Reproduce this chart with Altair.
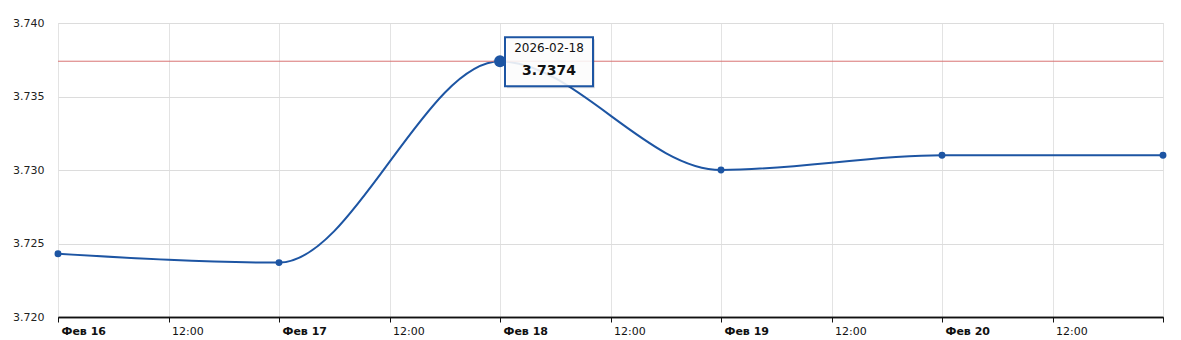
import altair as alt
import pandas as pd

dates = ["2026-02-16", "2026-02-17", "2026-02-18", "2026-02-19", "2026-02-20", "2026-02-21"]
rates = [3.7243, 3.7237, 3.7374, 3.7300, 3.7310, 3.7310]
highlight_date = "2026-02-18"
highlight_value = 3.7374
y_ticks = [3.720, 3.725, 3.730, 3.735, 3.740]
day_numbers = [16, 17, 18, 19, 20, 21]

df = pd.DataFrame({"date": dates, "rate": rates})
hl = pd.DataFrame({"date": [highlight_date], "rate": [highlight_value],
                   "label_date": [highlight_date], "label_value": [f"{highlight_value:.4f}"]})

LINE = "#1d55a3"
FONT = "DejaVu Sans"

day_ticks = [alt.DateTime(year=2026, month=2, date=d, hours=0, utc=True) for d in day_numbers]
noon_ticks = [alt.DateTime(year=2026, month=2, date=d, hours=12, utc=True) for d in day_numbers[:-1]]

x_scale = alt.Scale(type="utc", domain=[day_ticks[0], day_ticks[-1]], nice=False)
y_scale = alt.Scale(domain=[3.720, 3.740], nice=False, zero=False)

common = dict(title=None, orient="bottom", labelAlign="left", labelOffset=3, labelFlush=False, labelPadding=3,
              labelFont=FONT, labelFontSize=11, labelColor="#111",
              domainColor="#111", domainWidth=1.5, tickColor="#111", tickSize=5,
              grid=True, gridColor="#e3e3e3", labelOverlap=False)

x_axis_days = alt.Axis(values=day_ticks, labelFontWeight="bold",
                       labelExpr="utcdate(datum.value) == 21 ? '' : 'Фев ' + utcdate(datum.value)", **common)
x_axis_noon = alt.Axis(values=noon_ticks, labelFontWeight="normal",
                       labelExpr="utcFormat(datum.value, '%H:%M')", **common)

y_axis = alt.Axis(
    title=None, orient="left", values=y_ticks, format=".3f", ticks=False, domain=False,
    labelPadding=14, labelFont=FONT, labelFontSize=11, labelColor="#222",
    grid=True, gridColor="#dcdcdc",
)

yy = alt.Y("rate:Q", scale=y_scale, axis=y_axis)
xn = alt.X("date:T", scale=x_scale, axis=None)

base = alt.Chart(df)

noon_layer = base.mark_line(opacity=0).encode(
    x=alt.X("date:T", scale=x_scale, axis=x_axis_noon), y=yy)
line = base.mark_line(color=LINE, strokeWidth=2, interpolate="monotone").encode(
    x=alt.X("date:T", scale=x_scale, axis=x_axis_days), y=yy)
pts = base.mark_circle(color=LINE, opacity=1, size=48).encode(x=xn, y=yy)

hbase = alt.Chart(hl)
cross = hbase.mark_rule(color="#d87474", strokeWidth=1).encode(
    y=yy, x=alt.value(0), x2=alt.value(1105))
big = hbase.mark_circle(color=LINE, opacity=1, size=140).encode(x=xn, y=yy)
shadow = hbase.mark_rect(fill="#000", fillOpacity=0.12, xOffset=7, x2Offset=95, yOffset=-22, y2Offset=27).encode(
    x=xn, x2="date:T", y=yy, y2="rate:Q")
box = hbase.mark_rect(fill="#ffffff", fillOpacity=0.88, stroke=LINE, strokeWidth=2,
                      xOffset=5, x2Offset=93, yOffset=-24, y2Offset=25).encode(
    x=xn, x2="date:T", y=yy, y2="rate:Q")
t1 = hbase.mark_text(font=FONT, fontSize=12, color="#111", dx=49, dy=-13).encode(
    x=xn, y=yy, text="label_date:N")
t2 = hbase.mark_text(font=FONT, fontSize=14, fontWeight="bold", color="#111", dx=49, dy=10).encode(
    x=xn, y=yy, text="label_value:N")

chart = alt.layer(noon_layer, line, cross, pts, shadow, box, big, t1, t2).resolve_axis(
    x="independent"
).properties(
    width=1105, height=294,
    autosize=alt.AutoSizeParams(type="none"),
    padding={"left": 58, "top": 23, "right": 18, "bottom": 23},
).configure_view(strokeWidth=0).configure(background="white")

chart.save("out.html", embed_options={"renderer": "svg", "actions": False})
